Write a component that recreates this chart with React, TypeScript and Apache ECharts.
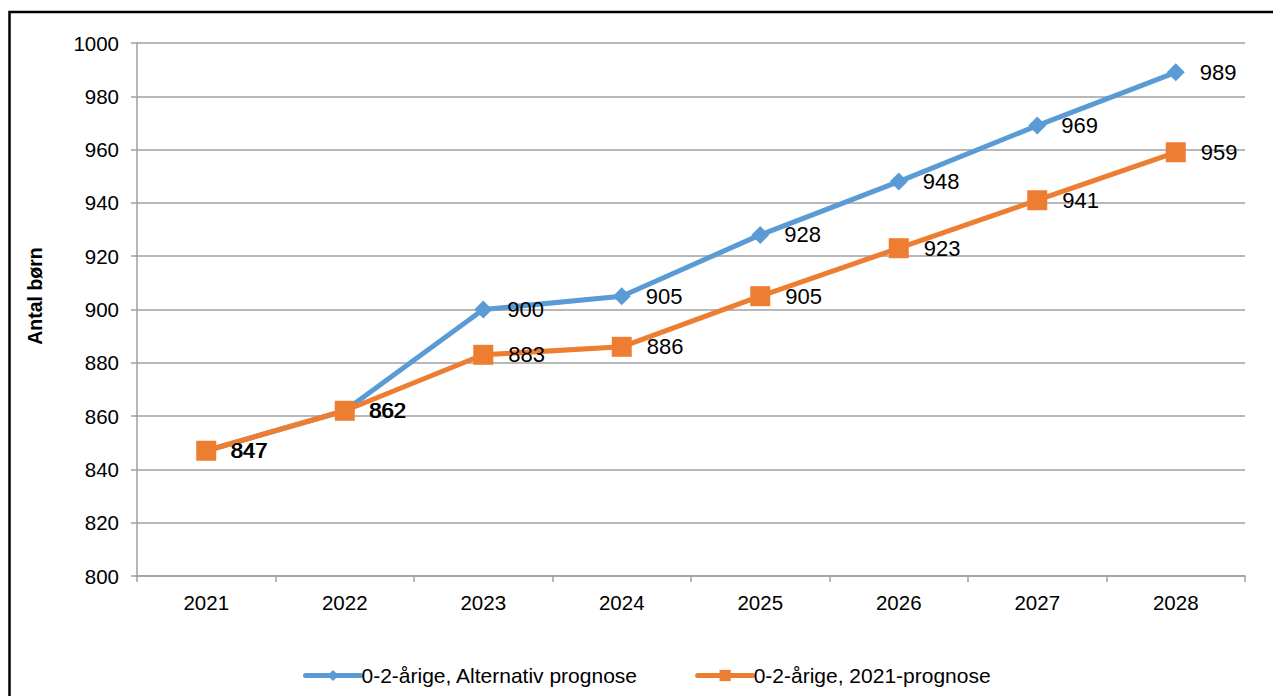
import React, { useEffect, useRef } from "react";
import * as echarts from "echarts";

const years = ["2021", "2022", "2023", "2024", "2025", "2026", "2027", "2028"];
const alternativ = [847, 862, 900, 905, 928, 948, 969, 989];
const prognose2021 = [847, 862, 883, 886, 905, 923, 941, 959];
const seriesNames = ["0-2-årige, Alternativ prognose", "0-2-årige, 2021-prognose"];
const yAxisTitle = "Antal børn";

const FONT = "'Liberation Sans', Arial, sans-serif";

export default function App() {
  const ref = useRef<HTMLDivElement>(null);
  useEffect(() => {
    if (!ref.current) return;
    const chart = echarts.init(ref.current, undefined, { renderer: "svg" });
    chart.setOption({
      animation: false,
      backgroundColor: "#ffffff",
      textStyle: { fontFamily: FONT },
      grid: { left: 137, right: 28, top: 43, bottom: 120, containLabel: false },
      graphic: [
        {
          type: "rect",
          shape: { x: 9.5, y: 12, width: 1400, height: 800 },
          style: { fill: "none", stroke: "#000000", lineWidth: 2.5 },
          silent: true,
        },
        {
          type: "text",
          x: 35,
          y: 296,
          rotation: Math.PI / 2,
          style: {
            text: yAxisTitle,
            fill: "#000000",
            font: `bold 19.5px ${FONT}`,
            align: "center",
            verticalAlign: "middle",
          },
        },
      ],
      legend: {
        left: 298,
        top: 660,
        itemWidth: 55,
        itemHeight: 14,
        itemGap: 57,
        lineStyle: { width: 5, cap: "round" },
        textStyle: { fontSize: 21, color: "#000000", fontFamily: FONT, padding: [0, 0, 0, -4] },
        data: seriesNames,
      },
      xAxis: {
        type: "category",
        data: years,
        boundaryGap: true,
        axisLine: { lineStyle: { color: "#a0a0a0", width: 1.5 } },
        axisTick: { show: true, length: 6, lineStyle: { color: "#a0a0a0", width: 1.5 } },
        axisLabel: { color: "#000000", fontSize: 20.5, margin: 16, fontFamily: FONT },
        splitLine: { show: false },
      },
      yAxis: {
        type: "value",
        min: 800,
        max: 1000,
        interval: 20,
        axisLine: { show: true, lineStyle: { color: "#a0a0a0", width: 1.5 } },
        axisTick: { show: true, length: 6, lineStyle: { color: "#a0a0a0", width: 1.5 } },
        axisLabel: {
          color: "#000000",
          fontSize: 20.5,
          margin: 18,
          fontFamily: FONT,
          formatter: (v: number) => String(v),
        },
        splitLine: { show: true, lineStyle: { color: "#a0a0a0", width: 1.5 } },
      },
      series: [
        {
          name: seriesNames[0],
          type: "line",
          data: alternativ,
          symbol: "diamond",
          symbolSize: 18,
          lineStyle: { color: "#5B9BD5", width: 5 },
          itemStyle: { color: "#5B9BD5" },
          label: {
            show: true,
            position: "right",
            distance: 15,
            color: "#000000",
            fontSize: 22,
            fontFamily: FONT,
          },
          z: 2,
        },
        {
          name: seriesNames[1],
          type: "line",
          data: prognose2021,
          symbol: "rect",
          symbolSize: 20,
          lineStyle: { color: "#ED7D31", width: 5 },
          itemStyle: { color: "#ED7D31" },
          label: {
            show: true,
            position: "right",
            distance: 15,
            color: "#000000",
            fontSize: 22,
            fontFamily: FONT,
          },
          z: 3,
        },
      ],
    });
    return () => chart.dispose();
  }, []);
  return (
    <div
      ref={ref}
      style={{ position: "absolute", left: 0, top: 0, width: 1273, height: 696 }}
    />
  );
}
